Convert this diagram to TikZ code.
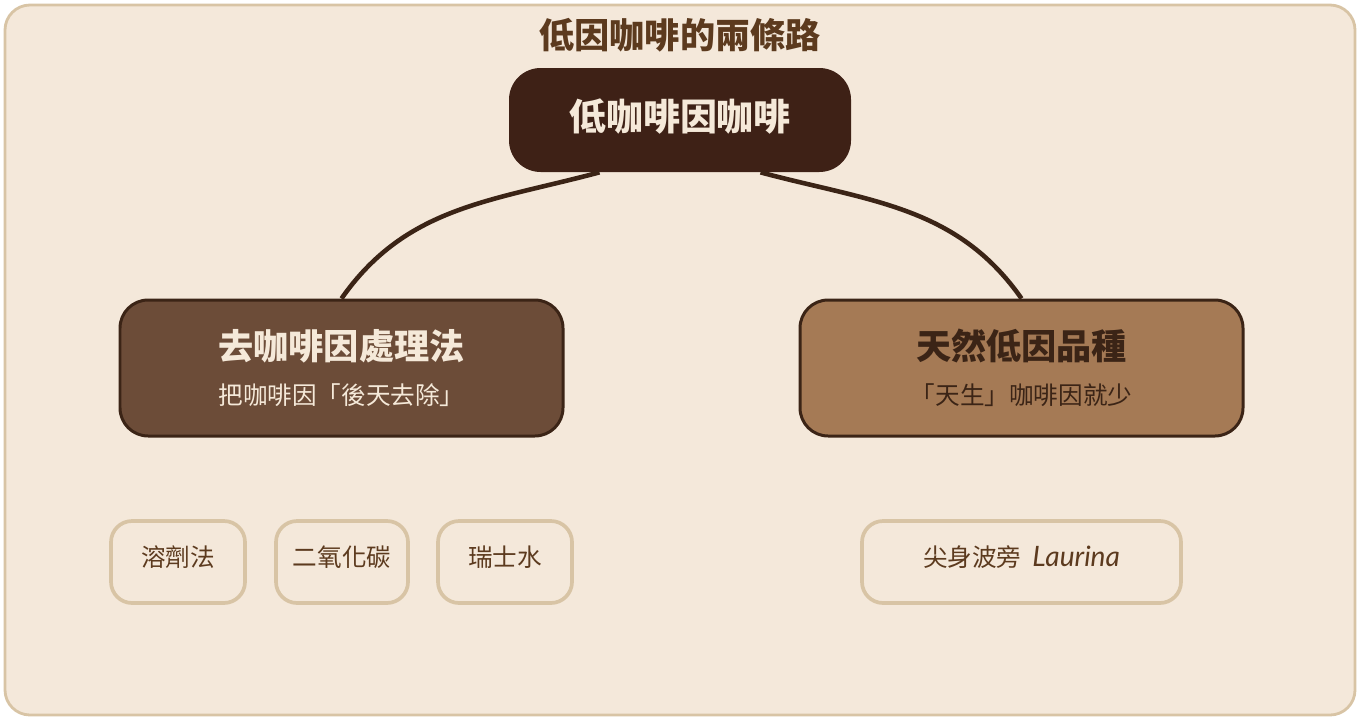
\documentclass[tikz,border=0pt]{standalone}
\usepackage{fontspec}
\setmainfont{Noto Sans CJK TC}
\newfontfamily\handfont{Lato}
\usetikzlibrary{calc}
\definecolor{paper}{RGB}{244,232,218}
\definecolor{paperedge}{RGB}{216,196,165}
\definecolor{espresso}{RGB}{62,33,22}
\definecolor{roast}{RGB}{108,76,56}
\definecolor{latte}{RGB}{165,122,85}
\definecolor{inkbrown}{RGB}{59,36,22}
\definecolor{titlebrown}{RGB}{92,58,30}
\definecolor{cream}{RGB}{245,233,217}

\begin{document}
\begin{tikzpicture}[
    every node/.style={inner sep=0pt},
    rootbox/.style={fill=espresso, rounded corners=18pt, minimum width=6.84cm, minimum height=2.08cm,
      text depth=6pt, text=cream, font=\bfseries\fontsize{21}{25}\selectfont},
    pathbox/.style={draw=inkbrown, line width=1.7pt, rounded corners=16pt, minimum width=8.86cm,
      minimum height=2.72cm, align=center},
    leafbox/.style={draw=paperedge, fill=paper, line width=2.1pt, rounded corners=12pt, minimum height=1.64cm,
      text height=11pt, text depth=6pt, text=titlebrown, font=\fontsize{14}{17}\selectfont},
    link/.style={draw=inkbrown, line width=2.6pt}
  ]
    \useasboundingbox (0,0) rectangle (27.2,-14.4);
    % background card
    \draw[paperedge, fill=paper, line width=1.6pt, rounded corners=0.5cm] (0.1,-0.1) rectangle (27.1,-14.3);
    \node[text=titlebrown, font=\bfseries\fontsize{20}{24}\selectfont] (title) at (13.6,-0.7) {低因咖啡的兩條路};
    % root
    \node[rootbox] (root) at (13.6,-2.4) {低咖啡因咖啡};
    % two paths
    \node[pathbox, fill=roast, text=cream] (decaf) at (6.83,-7.36)
      {{\bfseries\fontsize{20}{24}\selectfont 去咖啡因處理法}\\[11pt]{\fontsize{14}{17}\selectfont 把咖啡因「後天去除」}};
    \node[pathbox, fill=latte, text=inkbrown] (natural) at (20.43,-7.36)
      {{\bfseries\fontsize{20}{24}\selectfont 天然低因品種}\\[11pt]{\fontsize{14}{17}\selectfont 「天生」咖啡因就少}};
    % connectors
    \draw[link] ($(root.south)!0.47!(root.south west)$) to[out=195, in=55] (decaf.north);
    \draw[link] ($(root.south)!0.47!(root.south east)$) to[out=-15, in=125] (natural.north);
    % leaves
    \node[leafbox, minimum width=2.68cm] (solvent) at (3.56,-11.24) {溶劑法};
    \node[leafbox, minimum width=2.64cm] (co2) at (6.84,-11.24) {二氧化碳};
    \node[leafbox, minimum width=2.68cm] (swiss) at (10.1,-11.24) {瑞士水};
    \node[leafbox, minimum width=6.38cm] (laurina) at (20.43,-11.24) {尖身波旁\ \ {\handfont\itshape\fontsize{16}{19}\selectfont Laurina}};
  \end{tikzpicture}
\end{document}
